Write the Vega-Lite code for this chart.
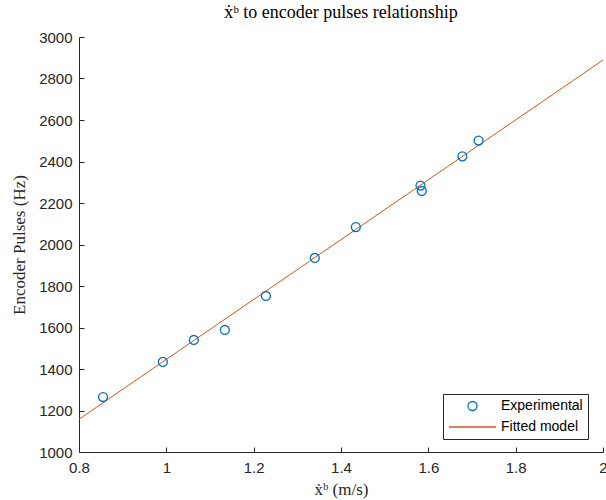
{
  "$schema": "https://vega.github.io/schema/vega-lite/v6.json",
  "width": 524,
  "height": 415,
  "autosize": {"type": "none"},
  "padding": {"left": 79, "top": 37, "right": 3, "bottom": 48},
  "background": "white",
  "title": {
    "text": "ẋᵇ to encoder pulses relationship",
    "font": "Liberation Serif",
    "fontSize": 18,
    "fontWeight": "normal",
    "color": "#000000",
    "offset": 8
  },
  "config": {
    "view": {"stroke": null},
    "axis": {
      "domainColor": "#262626",
      "tickColor": "#262626",
      "labelColor": "#262626",
      "titleColor": "#262626",
      "labelFont": "Liberation Sans",
      "labelFontSize": 15,
      "titleFont": "Liberation Serif",
      "titleFontSize": 17,
      "titleFontWeight": "normal",
      "grid": false,
      "tickSize": -5,
      "domainWidth": 1,
      "tickWidth": 1,
      "labelFlush": false,
      "labelOverlap": false
    }
  },
  "datasets": {
    "exp": [
      {"speed": 0.855, "pulses": 1265, "series": "Experimental"},
      {"speed": 0.992, "pulses": 1434, "series": "Experimental"},
      {"speed": 1.063, "pulses": 1540, "series": "Experimental"},
      {"speed": 1.134, "pulses": 1588, "series": "Experimental"},
      {"speed": 1.228, "pulses": 1752, "series": "Experimental"},
      {"speed": 1.340, "pulses": 1935, "series": "Experimental"},
      {"speed": 1.434, "pulses": 2084, "series": "Experimental"},
      {"speed": 1.582, "pulses": 2284, "series": "Experimental"},
      {"speed": 1.585, "pulses": 2258, "series": "Experimental"},
      {"speed": 1.678, "pulses": 2425, "series": "Experimental"},
      {"speed": 1.715, "pulses": 2501, "series": "Experimental"}
    ],
    "fit": [
      {"speed": 0.8, "pulses": 1158, "series": "Fitted model"},
      {"speed": 2.0, "pulses": 2889, "series": "Fitted model"}
    ]
  },
  "encoding": {
    "x": {
      "field": "speed",
      "type": "quantitative",
      "scale": {"domain": [0.8, 2], "nice": false, "zero": false},
      "axis": {
        "values": [0.8, 1, 1.2, 1.4, 1.6, 1.8, 2],
        "format": "~g",
        "title": "ẋᵇ (m/s)",
        "labelPadding": 13,
        "titlePadding": 6
      }
    },
    "y": {
      "field": "pulses",
      "type": "quantitative",
      "scale": {"domain": [1000, 3000], "nice": false, "zero": false},
      "axis": {
        "values": [1000, 1200, 1400, 1600, 1800, 2000, 2200, 2400, 2600, 2800, 3000],
        "format": "d",
        "title": "Encoder Pulses (Hz)",
        "labelPadding": 12,
        "titlePadding": 10
      }
    },
    "color": {
      "field": "series",
      "type": "nominal",
      "scale": {"domain": ["Experimental", "Fitted model"], "range": ["#0072BD", "#D95319"]},
      "legend": {
        "title": null,
        "orient": "none",
        "legendX": 364,
        "legendY": 357,
        "strokeColor": "#262626",
        "fillColor": "white",
        "padding": 5,
        "rowPadding": 6,
        "labelFont": "Liberation Sans",
        "labelFontSize": 14,
        "labelColor": "#000000",
        "labelOffset": 4,
        "symbolSize": 81,
        "symbolStrokeWidth": 1.3,
        "symbolType": "circle",
        "encode": {
          "symbols": {
            "update": {
              "y": {"value": 7},
              "size": {"signal": "datum.value === 'Experimental' ? 81 : 2209"},
              "shape": {"signal": "datum.value === 'Experimental' ? 'circle' : 'stroke'"}
            }
          },
          "labels": {
            "update": {
              "y": {"value": 7}
            }
          }
        }
      }
    }
  },
  "layer": [
    {
      "data": {"name": "fit"},
      "mark": {"type": "line", "strokeWidth": 1, "clip": true}
    },
    {
      "data": {"name": "exp"},
      "mark": {"type": "point", "filled": false, "strokeWidth": 1.3, "size": 80, "opacity": 1}
    }
  ]
}
